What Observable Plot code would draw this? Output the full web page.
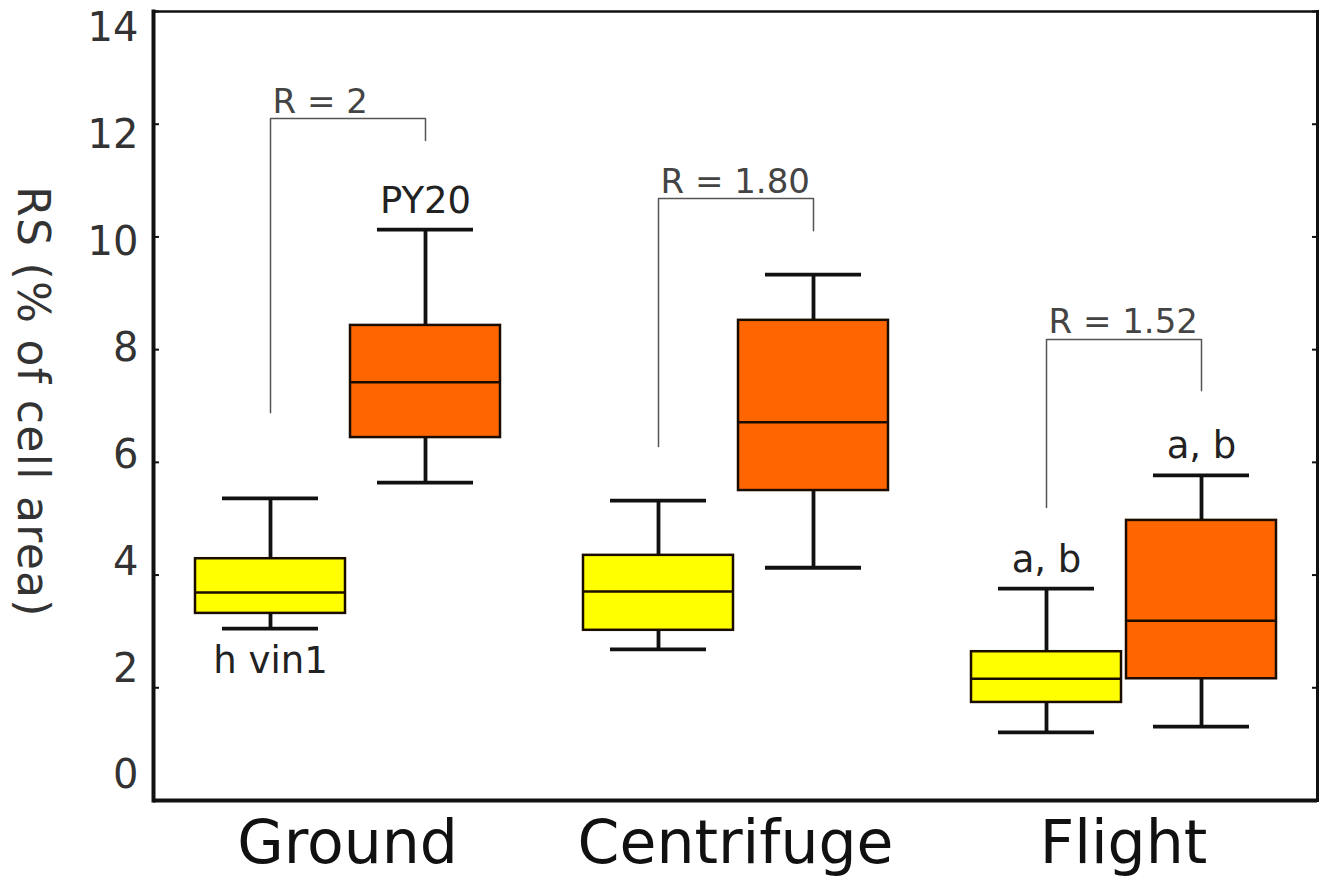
<!DOCTYPE html>
<html><head><meta charset="utf-8">
<script src="https://cdn.jsdelivr.net/npm/d3@7"></script>
<script src="https://cdn.jsdelivr.net/npm/@observablehq/plot@0.6"></script>
<style>
body{margin:0;background:#fff;}
#wrap{position:relative;width:1324px;height:882px;}
#wrap svg{position:absolute;left:0;top:0;}
#ylab{position:absolute;left:33px;top:402px;transform:translate(-50%,-50%);writing-mode:vertical-rl;font-family:"DejaVu Sans";font-size:44px;letter-spacing:1.3px;color:#333;white-space:nowrap;z-index:2;}
</style></head><body>
<div id="wrap"><div id="ylab">RS (% of cell area)</div></div>
<script>
const groups = ["Ground", "Centrifuge", "Flight"];
const strains = ["h vin1", "PY20"];
const boxGroup = ["Ground", "Ground", "Centrifuge", "Centrifuge", "Flight", "Flight"];
const boxStrain = ["h vin1", "PY20", "h vin1", "PY20", "h vin1", "PY20"];
const whiskerLow = [3.05, 5.64, 2.68, 4.13, 1.21, 1.31];
const q1 = [3.32, 6.44, 3.02, 5.50, 1.74, 2.16];
const median = [3.69, 7.42, 3.71, 6.71, 2.16, 3.19];
const q3 = [4.29, 8.43, 4.35, 8.52, 2.64, 4.97];
const whiskerHigh = [5.36, 10.13, 5.32, 9.33, 3.76, 5.77];

const bracketLeft = [6.88, 6.28, 5.20];
const bracketTop = [12.10, 10.68, 8.18];
const bracketRight = [11.71, 10.11, 7.27];
const ratioLabels = ["R = 2", "R = 1.80", "R = 1.52"];

const aboveGroup = ["Ground", "Flight", "Flight"];
const aboveStrain = ["PY20", "h vin1", "PY20"];
const aboveText = ["PY20", "a, b", "a, b"];
const belowGroup = ["Ground"];
const belowStrain = ["h vin1"];
const belowText = ["h vin1"];

const yTicks = [0, 2, 4, 6, 8, 10, 12, 14];
const colors = ["#ffff00", "#ff6600"];

const boxes = boxGroup.map((g, i) => ({group: g, strain: boxStrain[i], lo: whiskerLow[i], q1: q1[i], med: median[i], q3: q3[i], hi: whiskerHigh[i]}));
const find = (g, s) => boxes.find(b => b.group === g && b.strain === s);

const bracketPts = groups.flatMap((g, i) => [
  {group: g, strain: strains[0], y: bracketLeft[i]},
  {group: g, strain: strains[0], y: bracketTop[i]},
  {group: g, strain: strains[1], y: bracketTop[i]},
  {group: g, strain: strains[1], y: bracketRight[i]}
]);
const ratios = groups.map((g, i) => ({group: g, strain: strains[0], y: bracketTop[i], text: ratioLabels[i]}));
const above = aboveGroup.map((g, i) => ({group: g, strain: aboveStrain[i], y: find(g, aboveStrain[i]).hi, text: aboveText[i]}));
const below = belowGroup.map((g, i) => ({group: g, strain: belowStrain[i], y: find(g, belowStrain[i]).lo, text: belowText[i]}));

const ink = "#111";
const chart = Plot.plot({
  width: 1324,
  height: 882,
  marginLeft: 152,
  marginRight: 7,
  marginTop: 11,
  marginBottom: 82,
  style: {fontFamily: "DejaVu Sans", background: "#fff"},
  fx: {domain: groups, padding: 0, label: null},
  x: {domain: strains, paddingInner: 0.033, paddingOuter: 0.2665, axis: null},
  y: {domain: [0, 14], axis: null},
  color: {domain: strains, range: colors},
  marks: [
    Plot.ruleY([0], {stroke: ink, strokeWidth: 4}),
    Plot.ruleY([14], {stroke: ink, strokeWidth: 2.5}),
    Plot.frame({anchor: "left", facetAnchor: "left", stroke: ink, strokeWidth: 4}),
    Plot.frame({anchor: "right", facetAnchor: "right", stroke: ink, strokeWidth: 3}),
    Plot.axisY({anchor: "left", ticks: yTicks, tickSize: 6, dx: 6, tickFormat: () => "", label: null, stroke: ink, strokeWidth: 2}),
    Plot.axisY({anchor: "right", ticks: yTicks, tickSize: 6, dx: -6, tickFormat: () => "", label: null, stroke: ink, strokeWidth: 2}),
    Plot.axisFx({anchor: "bottom", tickSize: 0, tickPadding: 20, label: null, fontSize: 60, fill: ink}),
    Plot.line(bracketPts, {fx: "group", x: "strain", y: "y", z: "group", stroke: "#555", strokeWidth: 1.5}),
    Plot.text(ratios, {fx: "group", x: "strain", y: "y", text: "text", textAnchor: "start", lineAnchor: "bottom", dx: 2, dy: -6, fontSize: 34, fill: "#444"}),
    Plot.ruleX(boxes, {fx: "group", x: "strain", y1: "lo", y2: "q1", stroke: ink, strokeWidth: 3.8}),
    Plot.ruleX(boxes, {fx: "group", x: "strain", y1: "q3", y2: "hi", stroke: ink, strokeWidth: 3.8}),
    Plot.tickY(boxes, {fx: "group", x: "strain", y: "lo", stroke: ink, strokeWidth: 3.8, insetLeft: 27, insetRight: 27}),
    Plot.tickY(boxes, {fx: "group", x: "strain", y: "hi", stroke: ink, strokeWidth: 3.8, insetLeft: 27, insetRight: 27}),
    Plot.barY(boxes, {fx: "group", x: "strain", y1: "q1", y2: "q3", fill: "strain", stroke: "#1a0d00", strokeWidth: 2.5}),
    Plot.tickY(boxes, {fx: "group", x: "strain", y: "med", stroke: "#1a0d00", strokeWidth: 2.5}),
    Plot.text(above, {fx: "group", x: "strain", y: "y", text: "text", lineAnchor: "bottom", dy: -17, fontSize: 37, fill: "#222"}),
    Plot.text(below, {fx: "group", x: "strain", y: "y", text: "text", lineAnchor: "top", dy: 18, fontSize: 37, fill: "#222"})
  ]
});

// Tick labels of the reference sit on a slightly compressed copy of the value axis
const labelAxis = Plot.plot({
  width: 160,
  height: 882,
  marginLeft: 152,
  marginRight: 0,
  marginTop: 28,
  marginBottom: 107,
  style: {fontFamily: "DejaVu Sans", background: "transparent"},
  y: {domain: [0, 14], axis: null},
  marks: [
    Plot.axisY({anchor: "left", ticks: yTicks, tickSize: 0, tickPadding: 14, label: null, fontSize: 40, fill: "#333"})
  ]
});
const wrap = document.getElementById("wrap");
wrap.appendChild(chart);
wrap.appendChild(labelAxis);
</script>
</body></html>
